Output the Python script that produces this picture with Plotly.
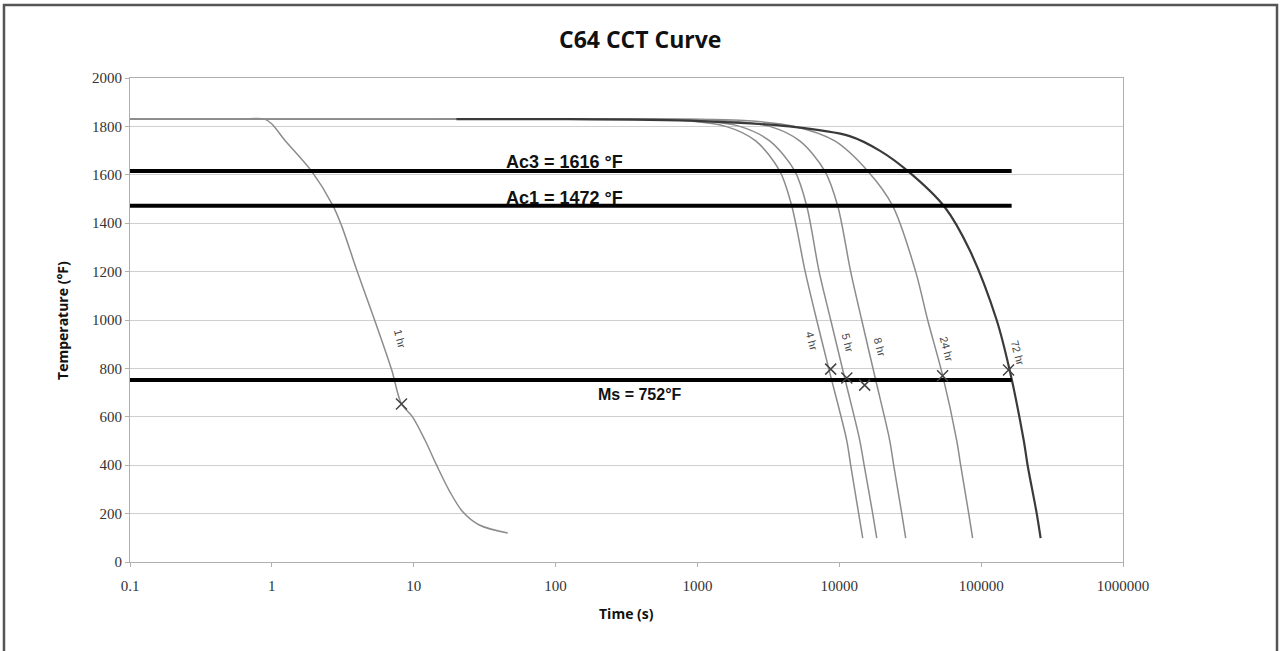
import plotly.graph_objects as go

# ---- data ----
curve_names = ["1 hr", "4 hr", "5 hr", "8 hr", "24 hr", "72 hr"]

t_1hr = [0.1, 0.3, 0.6, 0.89, 1.0, 1.23, 1.9, 2.7, 3.1, 4.0, 5.3, 7.0, 8.2, 9.8, 12, 14.5, 18, 22, 29, 46]
T_1hr = [1830, 1830, 1830, 1830, 1810, 1744, 1616, 1472, 1390, 1200, 1000, 793, 653, 600, 504, 400, 290, 210, 153, 120]

t_4hr = [0.1, 1, 10, 100, 750, 1583, 2575, 3800, 4620, 5750, 6930, 8420, 11270, 12030, 13680, 14630]
T_4hr = [1830, 1830, 1830, 1830, 1825, 1800, 1740, 1616, 1472, 1200, 1000, 800, 504, 400, 202, 99]

t_5hr = [0.1, 1, 10, 100, 957, 1987, 3230, 4850, 5890, 7210, 8700, 11010, 13930, 14970, 17180, 18370]
T_5hr = [1830, 1830, 1830, 1830, 1825, 1800, 1740, 1616, 1472, 1200, 1000, 752, 504, 400, 202, 99]

t_8hr = [0.1, 1, 10, 100, 1436, 3230, 5260, 7890, 9740, 12030, 14390, 18060, 22650, 24170, 27540, 29390]
T_8hr = [1830, 1830, 1830, 1830, 1825, 1800, 1740, 1616, 1472, 1200, 1000, 752, 504, 400, 202, 99]

t_24hr = [0.1, 1, 10, 100, 1987, 4850, 9290, 15850, 23790, 34540, 41980, 53580, 67190, 71710, 81660, 87100]
T_24hr = [1830, 1830, 1830, 1830, 1825, 1800, 1740, 1616, 1472, 1200, 1000, 770, 504, 400, 202, 99]

t_72hr = [20, 100, 1040, 4440, 11830, 19270, 30340, 55300, 82980, 128600, 158800, 199400, 212600, 246200, 262600]
T_72hr = [1830, 1830, 1822, 1800, 1760, 1700, 1616, 1467, 1289, 1000, 793, 504, 400, 202, 99]

marker_t = [8.2, 8700, 11300, 15100, 53500, 156000]
marker_T = [653, 797, 760, 731, 770, 793]

label_logt = [0.903, 3.806, 4.060, 4.285, 4.757, 5.258]
label_T = [921, 913, 905, 888, 880, 864]

crit_names = ["Ac3 = 1616 °F", "Ac1 = 1472 °F", "Ms = 752°F"]
crit_T = [1616, 1472, 752]
crit_t_range = [0.1, 164000]
crit_label_logt = [2.066, 2.066, 2.594]
crit_label_T = [1651, 1506, 694]

x_tickvals = [0.1, 1, 10, 100, 1000, 10000, 100000, 1000000]
x_ticktext = ["0.1", "1", "10", "100", "1000", "10000", "100000", "1000000"]
y_tickvals = [0, 200, 400, 600, 800, 1000, 1200, 1400, 1600, 1800, 2000]

# ---- figure ----
fig = go.Figure()

curves_t = [t_1hr, t_4hr, t_5hr, t_8hr, t_24hr, t_72hr]
curves_T = [T_1hr, T_4hr, T_5hr, T_8hr, T_24hr, T_72hr]
curve_colors = ["#8c8c8c", "#8c8c8c", "#8c8c8c", "#8c8c8c", "#8c8c8c", "#3a3a3a"]
curve_widths = [1.5, 1.5, 1.5, 1.5, 1.5, 2.2]

for name, tt, TT, c, w in zip(curve_names, curves_t, curves_T, curve_colors, curve_widths):
    fig.add_trace(go.Scatter(x=tt, y=TT, mode="lines", name=name,
                             line=dict(color=c, width=w, shape="spline", smoothing=0.9),
                             showlegend=False))

for name, T in zip(crit_names, crit_T):
    fig.add_trace(go.Scatter(x=crit_t_range, y=[T, T], mode="lines", name=name,
                             line=dict(color="#000000", width=4), showlegend=False))

fig.add_trace(go.Scatter(x=marker_t, y=marker_T, mode="markers", name="points",
                         marker=dict(symbol="x-thin", size=11,
                                     line=dict(color="#444444", width=1.5)),
                         showlegend=False))

annotations = []
for name, lx, ly in zip(curve_names, label_logt, label_T):
    annotations.append(dict(x=lx, y=ly, xref="x", yref="y", text=name, showarrow=False,
                            xanchor="center", yanchor="middle", textangle=75,
                            font=dict(family="Liberation Sans", size=11, color="#444444")))
crit_sizes = [18, 18, 16]
for name, lx, ly, s in zip(crit_names, crit_label_logt, crit_label_T, crit_sizes):
    annotations.append(dict(x=lx, y=ly, xref="x", yref="y", text="<b>" + name + "</b>",
                            showarrow=False, xanchor="center", yanchor="middle",
                            font=dict(family="Liberation Sans", size=s, color="#111111")))

annotations.append(dict(x=0.5, y=-0.107, xref="paper", yref="paper", text="<b>Time (s)</b>",
                        showarrow=False, xanchor="center", yanchor="middle",
                        font=dict(family="Open Sans", size=14, color="#111111")))
annotations.append(dict(x=-0.0685, y=0.5, xref="paper", yref="paper",
                        text="<b>Temperature (°F)</b>", textangle=-90,
                        showarrow=False, xanchor="center", yanchor="middle",
                        font=dict(family="Open Sans", size=14, color="#111111")))
annotations.append(dict(x=0.5136, y=1.081, xref="paper", yref="paper", text="<b>C64 CCT Curve</b>",
                        showarrow=False, xanchor="center", yanchor="middle",
                        font=dict(family="Open Sans", size=23, color="#111111")))

fig.update_layout(
    width=1280, height=651,
    margin=dict(l=130, r=157, t=78, b=89),
    paper_bgcolor="white", plot_bgcolor="white",
    annotations=annotations,
    shapes=[dict(type="rect", xref="paper", yref="paper",
                 x0=-0.1269, x1=1.1551, y0=-0.21, y1=1.151,
                 line=dict(color="#555555", width=2.5), layer="below")],
)
fig.update_xaxes(type="log", range=[-1, 6], tickvals=x_tickvals, ticktext=x_ticktext,
                 showgrid=False, showline=True, linecolor="#b0b0b0", linewidth=1, mirror=True,
                 ticks="outside", ticklen=4, tickcolor="#b0b0b0", ticklabelstandoff=6,
                 tickfont=dict(family="Liberation Serif", size=15, color="#333333"), zeroline=False)
fig.update_yaxes(range=[0, 2000], tickvals=y_tickvals, ticksuffix="\u00a0\u00a0",
                 showgrid=True, gridcolor="#cfcfcf", gridwidth=1,
                 showline=True, linecolor="#b0b0b0", linewidth=1, mirror=True,
                 ticks="outside", ticklen=4, tickcolor="#b0b0b0",
                 tickfont=dict(family="Liberation Serif", size=15, color="#333333"), zeroline=False)

fig.write_html("out.html", config={"displayModeBar": False},
               post_script="document.body.style.margin='0';")
